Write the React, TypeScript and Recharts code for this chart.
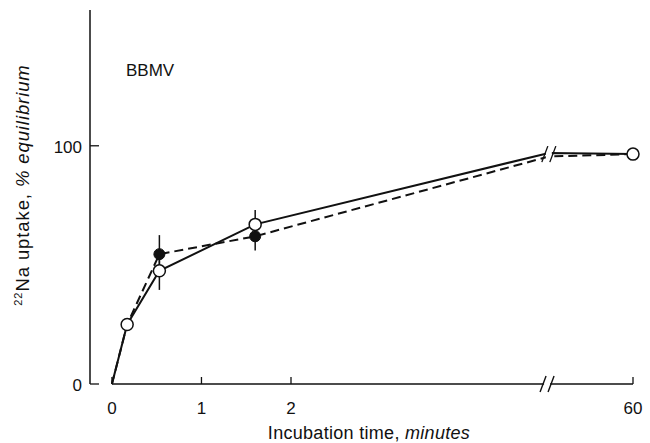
import { LineChart, Line, XAxis, YAxis, ErrorBar, ReferenceLine, ReferenceDot } from 'recharts';

// incubation time (minutes) and uptake (% equilibrium)
const MINUTES = [0, 0.17, 0.53, 1.6, 30, 60];
const OPEN = [0, 25, 47.5, 67, 97, 96.5];
const OPEN_ERR = [0, 0, 8, 6, 0, 0];
const FILLED = [0, 25, 54.5, 62, 95.5, 96.5];
const FILLED_ERR = [0, 0, 8, 6, 0, 0];

const X_TICKS = [0, 1, 2, 60];
const Y_TICKS = [0, 100];
const BREAK_MIN = 30;

const INK = '#111';
const FONT = '"Liberation Sans", Arial, sans-serif';

// broken time axis: 0-2 min linear, then compressed segments
function axisPos(t: number) {
  if (t <= 2) return t;
  if (t <= BREAK_MIN) return 2 + ((t - 2) * 2.88) / (BREAK_MIN - 2);
  return 4.88 + ((t - BREAK_MIN) * 0.94) / (60 - BREAK_MIN);
}

const data = MINUTES.map((m, i) => ({
  pos: axisPos(m),
  minutes: m,
  open: OPEN[i],
  openErr: OPEN_ERR[i],
  filled: FILLED[i],
  filledErr: FILLED_ERR[i],
}));

const hideDot = (m: number) => m === 0 || m === BREAK_MIN;

const OpenDot = (p: any) => {
  if (hideDot(p.payload.minutes)) return <g key={p.index} />;
  return <circle key={p.index} cx={p.cx} cy={p.cy} r={6} fill="#fff" stroke={INK} strokeWidth={1.5} />;
};

const FilledDot = (p: any) => {
  if (hideDot(p.payload.minutes)) return <g key={p.index} />;
  return <circle key={p.index} cx={p.cx} cy={p.cy} r={5.5} fill={INK} stroke={INK} strokeWidth={1} />;
};

const XTick = (p: any) => (
  <g>
    <line x1={p.x} y1={p.y} x2={p.x} y2={p.y - 7} stroke={INK} strokeWidth={1.3} />
    <text x={p.x} y={p.y + 30} textAnchor="middle" fontSize={17} fontFamily={FONT} fill={INK}>
      {X_TICKS[p.index]}
    </text>
  </g>
);

const YTick = (p: any) => (
  <g>
    <line x1={p.x} y1={p.y} x2={p.x + 9} y2={p.y} stroke={INK} strokeWidth={1.3} />
    <text x={p.x - 8} y={p.y + 7} textAnchor="end" fontSize={17} fontFamily={FONT} fill={INK}>
      {p.payload.value}
    </text>
  </g>
);

const BreakMark = (p: any) => (
  <g>
    <rect x={p.cx - 3} y={p.cy - 9} width={6} height={18} fill="#fff" />
    <line x1={p.cx - 7} y1={p.cy + 8} x2={p.cx - 1} y2={p.cy - 8} stroke={INK} strokeWidth={1.4} />
    <line x1={p.cx + 1} y1={p.cy + 8} x2={p.cx + 7} y2={p.cy - 8} stroke={INK} strokeWidth={1.4} />
  </g>
);

export default function App() {
  return (
    <div style={{ position: 'absolute', left: 0, top: 0, background: '#fff' }}>
      <LineChart width={650} height={443} data={data} margin={{ top: 10, right: 17, bottom: 58, left: 89 }}>
        <XAxis
          type="number"
          dataKey="pos"
          domain={[-0.245, 5.82]}
          ticks={X_TICKS.map(axisPos)}
          axisLine={false}
          tickLine={false}
          tickSize={0}
          tickMargin={0}
          height={1}
          tick={<XTick />}
          interval={0}
        />
        <YAxis
          type="number"
          domain={[0, 157]}
          ticks={Y_TICKS}
          axisLine={{ stroke: INK, strokeWidth: 1.5 }}
          tickLine={false}
          tickSize={0}
          tickMargin={0}
          width={1}
          tick={<YTick />}
          interval={0}
        />
        <ReferenceLine
          segment={[{ x: 0, y: 0 }, { x: axisPos(60), y: 0 }]}
          stroke={INK}
          strokeWidth={1.5}
        />
        <Line
          dataKey="filled"
          stroke={INK}
          strokeWidth={2}
          strokeDasharray="9 5"
          dot={FilledDot}
          isAnimationActive={false}
        >
          <ErrorBar dataKey="filledErr" width={0} stroke={INK} strokeWidth={1.5} direction="y" />
        </Line>
        <Line
          dataKey="open"
          stroke={INK}
          strokeWidth={2}
          dot={OpenDot}
          isAnimationActive={false}
        >
          <ErrorBar dataKey="openErr" width={0} stroke={INK} strokeWidth={1.5} direction="y" />
        </Line>
        <ReferenceDot x={axisPos(BREAK_MIN)} y={96.5} shape={BreakMark} />
        <ReferenceDot x={axisPos(BREAK_MIN) - 0.02} y={0} shape={BreakMark} />
        <text x={126} y={76} fontSize={17} fontFamily={FONT} fill={INK}>
          BBMV
        </text>
        <text
          x={29}
          y={185}
          transform="rotate(-90 29 185)"
          textAnchor="middle"
          fontSize={18.5}
          letterSpacing={0.9}
          fontFamily={FONT}
          fill={INK}
        >
          <tspan fontSize={11} dy={-7}>22</tspan>
          <tspan dy={7}>Na uptake, </tspan>
          <tspan fontStyle="italic">% equilibrium</tspan>
        </text>
        <text
          x={369}
          y={439}
          textAnchor="middle"
          fontSize={18}
          letterSpacing={0.3}
          fontFamily={FONT}
          fill={INK}
        >
          Incubation time, <tspan fontStyle="italic">minutes</tspan>
        </text>
      </LineChart>
    </div>
  );
}
